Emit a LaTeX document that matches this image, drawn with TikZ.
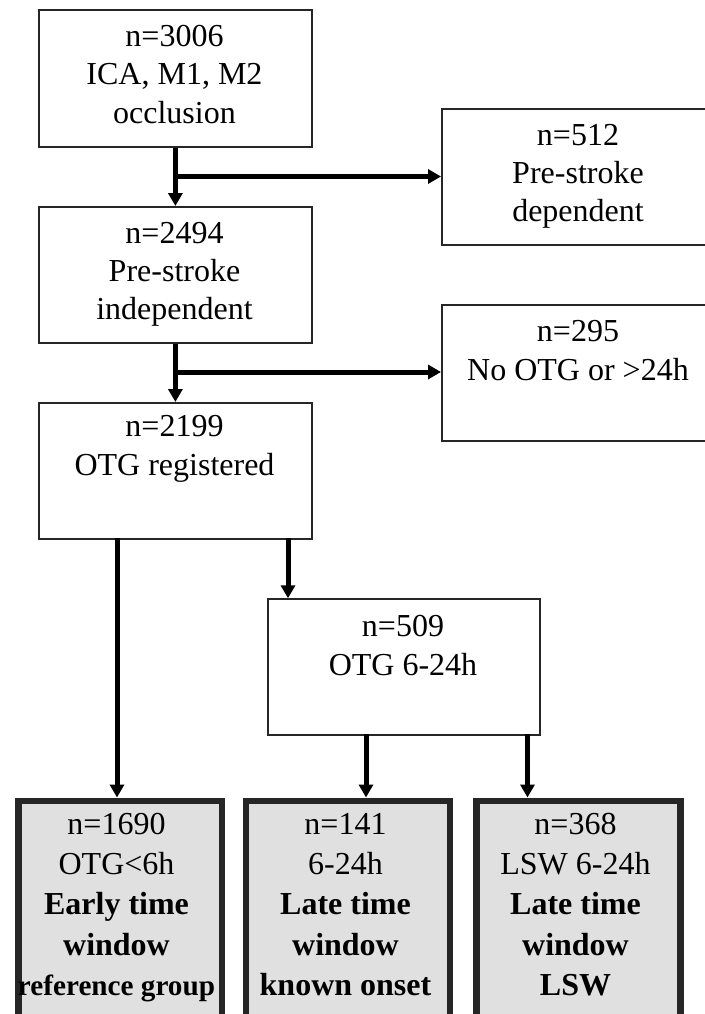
\documentclass[tikz,border=0pt]{standalone}
\usepackage{fontspec}
\setmainfont{Liberation Serif}
\usetikzlibrary{arrows.meta}
\definecolor{boxgray}{HTML}{E0E0E0}
\begin{document}
\begin{tikzpicture}[x=1pt,y=-1pt,
  box/.style={draw=black!85, line width=1.8pt, fill=white, inner sep=0pt, anchor=north west},
  fbox/.style={draw=black!85, line width=6.5pt, fill=boxgray, inner sep=0pt, anchor=north west},
  txt/.style={align=center, font=\fontsize{32}{38.3}\selectfont, inner sep=0pt, anchor=base},
  btxt/.style={align=center, font=\fontsize{32}{40.3}\selectfont, inner sep=0pt, anchor=base},
  arr/.style={line width=5pt, -{Triangle[length=13pt,width=14pt]}}]
\useasboundingbox (0,0) rectangle (704,1014);
% boxes
\node[box, minimum width=273pt, minimum height=136.5pt] (b1) at (38,9.3) {};
\node[box, minimum width=300pt, minimum height=136pt] (b512) at (441,108.3) {};
\node[box, minimum width=273pt, minimum height=136pt] (b2) at (38,206) {};
\node[box, minimum width=300pt, minimum height=136pt] (b295) at (441,304) {};
\node[box, minimum width=273pt, minimum height=136pt] (b3) at (38,402) {};
\node[box, minimum width=272pt, minimum height=136pt] (b509) at (267,598.3) {};
\node[fbox, minimum width=203.5pt, minimum height=230pt] (f1) at (15,797.5) {};
\node[fbox, minimum width=204pt, minimum height=230pt] (f2) at (242.5,797.5) {};
\node[fbox, minimum width=204pt, minimum height=230pt] (f3) at (473.3,797.5) {};
% texts (anchor = baseline of last line)
\node[txt] (t1) at (174.5,123.3) {n=3006\\ICA, M1, M2\\occlusion};
\node[txt] (t512) at (578,221.6) {n=512\\Pre-stroke\\dependent};
\node[txt] (t2) at (174.5,319.6) {n=2494\\Pre-stroke\\independent};
\node[txt] (t295) at (578,380) {n=295\\No OTG or >24h};
\node[txt] (t3) at (174.5,475) {n=2199\\OTG registered};
\node[txt] (t509) at (403,675) {n=509\\OTG 6-24h};
\node[btxt] (tf1) at (116.5,995.5) {n=1690\\OTG<6h\\\textbf{Early time}\\\textbf{window}\\{\fontsize{29.2}{40.3}\selectfont\textbf{reference group}}};
\node[btxt] (tf2) at (345.5,995.5) {n=141\\6-24h\\\textbf{Late time}\\\textbf{window}\\\textbf{known onset}};
\node[btxt] (tf3) at (575.5,995.5) {n=368\\LSW 6-24h\\\textbf{Late time}\\\textbf{window}\\\textbf{LSW}};
% connectors
\coordinate (j1) at (174.5,176.5);
\coordinate (j2) at (174.5,372);
\draw[arr] (b1.south) -- (b2.north);
\draw[arr] (j1) -- (j1 -| b512.west);
\draw[arr] (b2.south) -- (b3.north);
\draw[arr] (j2) -- (j2 -| b295.west);
\coordinate (s1) at (117,538);
\coordinate (s2) at (288,538);
\draw[arr] (s1) -- (s1 |- f1.north);
\draw[arr] (s2) -- (s2 |- b509.north);
\coordinate (s3) at (366,734.3);
\coordinate (s4) at (527.5,734.3);
\draw[arr] (s3) -- (s3 |- f2.north);
\draw[arr] (s4) -- (s4 |- f3.north);
\end{tikzpicture}
\end{document}
